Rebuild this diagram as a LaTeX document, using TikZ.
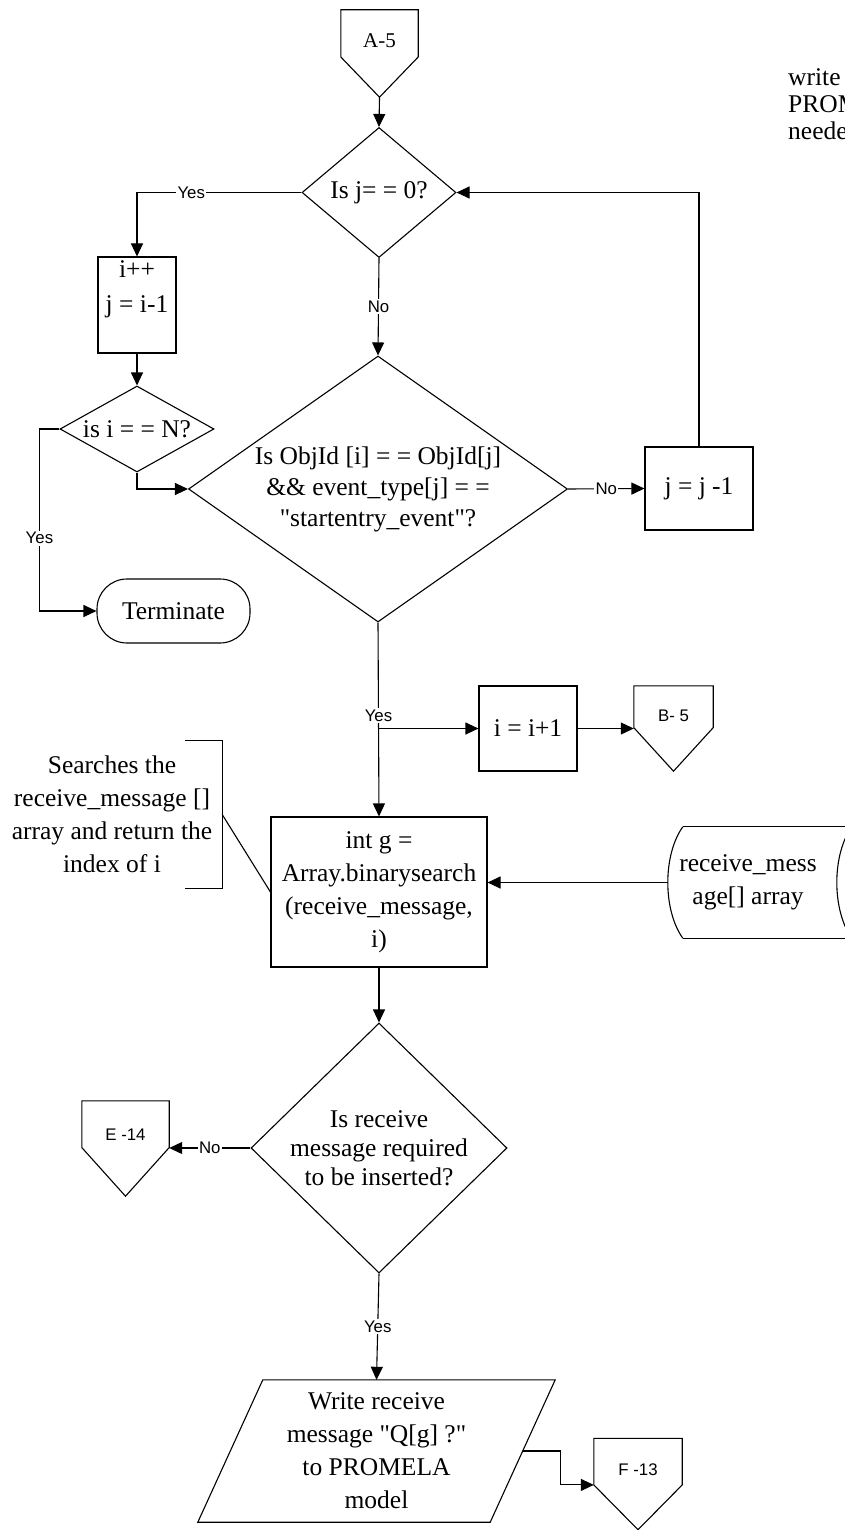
\documentclass[tikz,border=0pt]{standalone}
\usepackage{fontspec}
\setmainfont{Liberation Serif}
\newfontfamily\labelsans{Liberation Sans}
\usetikzlibrary{shapes.geometric,arrows.meta,calc}

% off-page connector: pentagon pointing down, drawn round a named node
\newcommand\drawoffpage[2]{%
  \coordinate (#1-l) at ($(#1.north west)!#2!(#1.south west)$);
  \coordinate (#1-r) at ($(#1.north east)!#2!(#1.south east)$);
  \draw[lw] (#1.north west) -- (#1.north east) -- (#1-r) -- (#1.south) -- (#1-l) -- cycle;
}

\begin{document}
\begin{tikzpicture}[x=1pt,y=-1pt,
  every node/.style={align=center},
  txt/.style={font=\fontsize{25.5}{32}\selectfont},
  lw/.style={line width=1.1pt},
  flow/.style={lw,-{Triangle[length=13pt,width=12pt]}},
  box/.style={txt,draw,lw,rectangle,inner sep=0pt},
  decision/.style={txt,draw,lw,diamond,inner sep=0pt},
  offpage/.style={rectangle,inner sep=0pt},
  conntext/.style={font=\labelsans\fontsize{16.8}{18}\selectfont},
  lbl/.style={font=\labelsans\fontsize{16.8}{18}\selectfont,fill=white,inner sep=1.5pt},
]
\useasboundingbox (0,0) rectangle (845,1530);
\clip (0,0) rectangle (845,1530);

% ---- nodes ----
\node[offpage,minimum width=77pt,minimum height=87pt,
  label={[font=\fontsize{21}{24}\selectfont,yshift=12.5pt]center:A-5}] (A5) at (379.5,53.5) {};
\node[decision,minimum width=154pt,minimum height=130pt] (D1) at (379,192.5) {Is j= = 0?};
\node[box,minimum width=78pt,minimum height=96pt,
  label={[font=\fontsize{25.5}{35}\selectfont,yshift=15.5pt]center:i++\\j = i-1}] (I) at (137,305) {};
\node[decision,inner sep=-10pt,minimum width=154pt,minimum height=86pt] (D2) at (137,429) {is i = = N?};
\node[decision,inner sep=-40pt,minimum width=379pt,minimum height=266pt,
  font=\fontsize{25.5}{31}\selectfont] (D3) at (378,489)
  {Is ObjId [i] = = ObjId[j]\\\&\& event\_type[j] = =\\\textquotedbl startentry\_event\textquotedbl ?};
\node[box,minimum width=108pt,minimum height=83pt] (J) at (699,488.5) {j = j -1};
\node[txt,draw,lw,rounded corners=30pt,minimum width=153pt,minimum height=64pt,inner sep=0pt] (T) at (173.5,611) {Terminate};
\node[box,minimum width=98pt,minimum height=85pt] (K) at (528,728.5) {i = i+1};
\node[offpage,minimum width=79pt,minimum height=85pt,
  label={[conntext,yshift=12.5pt]center:B- 5}] (B5) at (673.5,728.5) {};
\node[box,minimum width=216pt,minimum height=150pt,font=\fontsize{25.5}{33}\selectfont] (G) at (379,892)
  {int g =\\Array.binarysearch\\(receive\_message,\\i)};
\node[txt,minimum width=220pt,minimum height=147pt,inner sep=0pt,font=\fontsize{25.5}{33}\selectfont] (note) at (112,814.5)
  {Searches the\\receive\_message []\\array and return the\\index of i};
\node[offpage,minimum width=178pt,minimum height=111pt,
  label={[font=\fontsize{25.5}{33}\selectfont,xshift=-9pt]center:receive\_mess\\age[] array}] (store) at (757,882.5) {};
\node[decision,inner sep=-30pt,minimum width=256pt,minimum height=250pt,
  font=\fontsize{25.5}{29}\selectfont] (D4) at (379,1148) {Is receive\\message required\\to be inserted?};
\node[offpage,minimum width=87pt,minimum height=95pt,
  label={[conntext,yshift=13.5pt]center:E -14}] (E14) at (125.5,1148.5) {};
\node[txt,minimum width=357pt,minimum height=142pt,inner sep=0pt,font=\fontsize{25.5}{33}\selectfont] (P) at (376.5,1451)
  {Write receive\\message \textquotedbl Q[g] ?\textquotedbl\\to PROMELA\\model};
\node[offpage,minimum width=88pt,minimum height=91pt,
  label={[conntext,yshift=14pt]center:F -13}] (F13) at (638,1484) {};
\node[anchor=west,align=left,inner sep=0pt,font=\fontsize{25.5}{27}\selectfont] (wr) at (788,104) {write\\PROMELA\\needed};

% ---- outlines ----
\drawoffpage{A5}{0.54}
\drawoffpage{B5}{0.49}
\drawoffpage{E14}{0.49}
\drawoffpage{F13}{0.51}
% input/output parallelogram
\draw[lw] (P.south west) -- ($(P.north west)+(65,0)$) -- (P.north east) -- ($(P.south east)+(-65,0)$) -- cycle;
\coordinate (Pr) at ($(P.east)+(-32.5,0)$);
% stored data symbol
\draw[lw] ($(store.north west)+(15,0)$) -- ++(200,0);
\draw[lw] ($(store.south west)+(15,0)$) -- ++(200,0);
\draw[lw] ($(store.north west)+(15,0)$) .. controls ($(store.north west)+(-5,28)$) and ($(store.south west)+(-5,-28)$) .. ($(store.south west)+(15,0)$);
\draw[lw] ($(store.north west)+(184,0)$) .. controls ($(store.north west)+(164,28)$) and ($(store.south west)+(164,-28)$) .. ($(store.south west)+(184,0)$);
% annotation bracket
\draw[lw] ($(note.north east)+(-37,0)$) -- (note.north east) -- (note.south east) -- ++(-37,0);
\draw[lw] (note.east) -- (G.west);

% ---- connectors ----
\draw[flow] (A5.south) -- (D1.north);
\draw[flow] (D1.west) -| node[lbl,pos=0.335]{Yes} (I.north);
\draw[flow] (I.south) -- (D2.north);
\draw[flow] (D2.south) |- (D3.west);
\draw[flow] (D2.west) -- ++(-20,0) |- node[lbl,pos=0.3]{Yes} (T.west);
\draw[flow] (D1.south) -- node[lbl]{No} (D3.north);
\draw[flow] (D3.east) -- node[lbl]{No} (J.west);
\draw[flow] (J.north) |- (D1.east);
\draw[flow] (D3.south) -- node[lbl,pos=0.48]{Yes} (G.north);
\coordinate (jn) at (D3.south |- K.west);
\draw[flow] (jn) -- (K.west);
\draw[flow] (K.east) -- (K.east -| B5.west);
\draw[flow] (store.west) -- (store.west -| G.east);
\draw[flow] (G.south) -- (D4.north);
\draw[flow] (D4.west) -- node[lbl]{No} (D4.west -| E14.east);
\draw[flow] (D4.south) -- node[lbl]{Yes} (P.north);
\draw[flow] (Pr) -- ++(38,0) |- (F13-l);
\end{tikzpicture}
\end{document}
